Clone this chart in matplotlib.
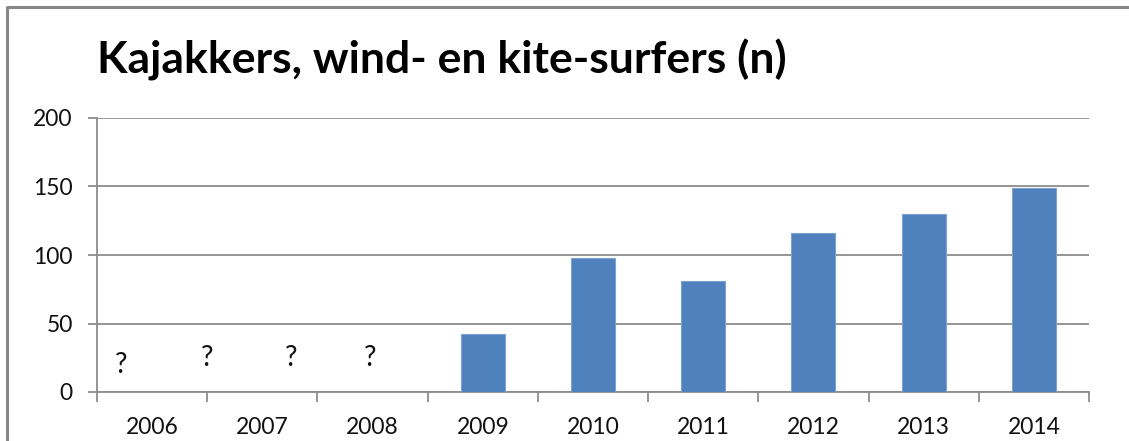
import matplotlib.pyplot as plt
from matplotlib.lines import Line2D

# data
years = ['2006', '2007', '2008', '2009', '2010', '2011', '2012', '2013', '2014']
counts = [0, 0, 0, 42, 98, 81, 116, 130, 149]

# unknown years get a question mark (position index, height)
unknown_x = [-0.28, 0.50, 1.26, 1.98]
unknown_y = [20, 25, 25, 25]

plt.rcParams['font.family'] = ['Lato', 'DejaVu Sans']

fig = plt.figure(figsize=(11.29, 4.41), dpi=100)
W, H = 1129, 441
ax = fig.add_axes([97 / W, 1 - 392 / H, (1089 - 97) / W, (392 - 118) / H])

# outer chart frame: only left and top edges fall inside the picture
fx, fy = 7 / W, 1 - 7 / H
fig.lines.append(Line2D([fx, fx, 1.0], [0.0, fy, fy], transform=fig.transFigure,
                        color='#878787', linewidth=2.2))

x = list(range(len(years)))
ax.bar(x, counts, width=0.4, color='#4F81BD', edgecolor='#7FA1CD',
       linewidth=0.8, zorder=3)

for qx, qy in zip(unknown_x, unknown_y):
    ax.text(qx, qy, '?', ha='center', va='center', fontsize=20, color='#111111')

ax.set_xlim(-0.5, len(years) - 0.5)
ax.set_ylim(0, 200)
ax.set_yticks([0, 50, 100, 150, 200])
ax.yaxis.grid(True, color='#8C8C8C', linewidth=1.3)
ax.set_axisbelow(True)

ax.set_xticks(x)
ax.set_xticklabels(years)
ax.set_xticks([i - 0.5 for i in range(len(years) + 1)], minor=True)
ax.tick_params(axis='x', which='major', length=0, pad=18, labelsize=16.5, labelcolor='#111111')
ax.tick_params(axis='x', which='minor', length=7, width=1.3, color='#8C8C8C')
ax.tick_params(axis='y', length=6.5, width=1.3, color='#8C8C8C', pad=11,
               labelsize=16.5, labelcolor='#111111')

for side in ['top', 'right']:
    ax.spines[side].set_visible(False)
for side in ['left', 'bottom']:
    ax.spines[side].set_color('#8C8C8C')
    ax.spines[side].set_linewidth(1.3)

fig.text(97 / W, 1 - 60 / H, 'Kajakkers, wind- en kite-surfers (n)',
         fontsize=32, fontweight='bold', ha='left', va='center')

fig.savefig('out.png', dpi=100)
